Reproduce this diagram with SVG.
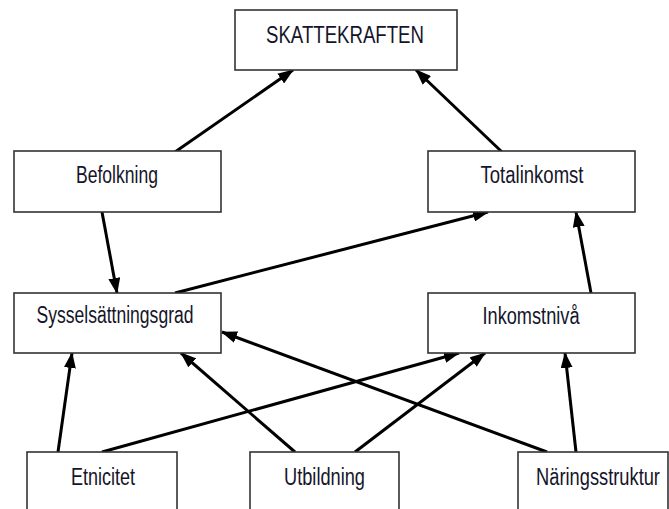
<svg xmlns="http://www.w3.org/2000/svg" width="669" height="509" viewBox="0 0 669 509">
<style>
.box{fill:#fff;stroke:#333;stroke-width:1.6}
.lbl{font-family:"Liberation Sans",Arial,sans-serif;font-size:23px;fill:#15152a;text-anchor:middle}
.edge{stroke:#000;stroke-width:3;fill:none;marker-end:url(#ah)}
</style>
<defs>
<marker id="ah" markerUnits="userSpaceOnUse" markerWidth="16" markerHeight="12" refX="15" refY="6" orient="auto">
<path d="M0,0 L16,6 L0,12 z" fill="#000"/>
</marker>
</defs>
<rect width="669" height="509" fill="#fff"/>
<g id="connectors">
<line class="edge" x1="175" y1="152" x2="293" y2="70"/>
<line class="edge" x1="502" y1="152" x2="416" y2="70"/>
<line class="edge" x1="102" y1="212" x2="117" y2="293"/>
<line class="edge" x1="175" y1="293" x2="488" y2="212"/>
<line class="edge" x1="591" y1="293" x2="576" y2="212"/>
<line class="edge" x1="58" y1="452" x2="72" y2="353"/>
<line class="edge" x1="102" y1="452" x2="459" y2="353"/>
<line class="edge" x1="295" y1="452" x2="181" y2="353"/>
<line class="edge" x1="355" y1="452" x2="485" y2="353"/>
<line class="edge" x1="547" y1="452" x2="222" y2="332"/>
<line class="edge" x1="576" y1="452" x2="565" y2="353"/>
</g>
<g id="skattekraften"><rect class="box" x="235" y="10" width="222" height="60"/><text class="lbl" x="345" y="43" textLength="158" lengthAdjust="spacingAndGlyphs">SKATTEKRAFTEN</text></g>
<g id="befolkning"><rect class="box" x="14" y="151" width="207" height="61"/><text class="lbl" x="117" y="183" textLength="82" lengthAdjust="spacingAndGlyphs">Befolkning</text></g>
<g id="totalinkomst"><rect class="box" x="428" y="151" width="207" height="61"/><text class="lbl" x="532" y="183" textLength="103" lengthAdjust="spacingAndGlyphs">Totalinkomst</text></g>
<g id="sysselsattningsgrad"><rect class="box" x="14" y="293" width="207" height="60"/><text class="lbl" x="115" y="323" textLength="157" lengthAdjust="spacingAndGlyphs">Sysselsättningsgrad</text></g>
<g id="inkomstniva"><rect class="box" x="428" y="293" width="207" height="60"/><text class="lbl" x="531" y="324" textLength="97" lengthAdjust="spacingAndGlyphs">Inkomstnivå</text></g>
<g id="etnicitet"><rect class="box" x="27" y="452" width="150" height="70"/><text class="lbl" x="103" y="485" textLength="64" lengthAdjust="spacingAndGlyphs">Etnicitet</text></g>
<g id="utbildning"><rect class="box" x="250" y="452" width="149" height="70"/><text class="lbl" x="324.5" y="485" textLength="81" lengthAdjust="spacingAndGlyphs">Utbildning</text></g>
<g id="naringsstruktur"><rect class="box" x="518" y="452" width="150" height="70"/><text class="lbl" transform="translate(598,485) scale(0.795,1)" x="0" y="0">Näringsstruktur</text></g>
</svg>
